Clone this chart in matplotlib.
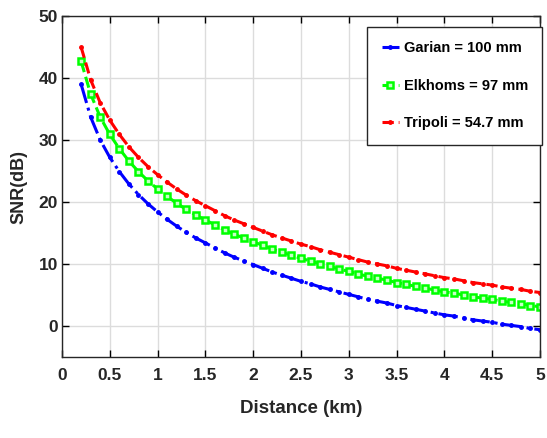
import numpy as np
import matplotlib
matplotlib.use("Agg")
import matplotlib.pyplot as plt

# distance in km, 0.2 .. 5.0 step 0.1
distance = [0.2, 0.3, 0.4, 0.5, 0.6, 0.7, 0.8, 0.9, 1.0,
            1.1, 1.2, 1.3, 1.4, 1.5, 1.6, 1.7, 1.8, 1.9, 2.0,
            2.1, 2.2, 2.3, 2.4, 2.5, 2.6, 2.7, 2.8, 2.9, 3.0,
            3.1, 3.2, 3.3, 3.4, 3.5, 3.6, 3.7, 3.8, 3.9, 4.0,
            4.1, 4.2, 4.3, 4.4, 4.5, 4.6, 4.7, 4.8, 4.9, 5.0]

snr_garian = [39.0, 33.7, 30.0, 27.2, 24.9, 22.9, 21.2, 19.7, 18.4,
              17.2, 16.1, 15.1, 14.2, 13.4, 12.6, 11.8, 11.1, 10.5, 9.9,
              9.3, 8.7, 8.2, 7.7, 7.2, 6.8, 6.3, 5.9, 5.5, 5.1,
              4.7, 4.3, 4.0, 3.7, 3.3, 3.0, 2.7, 2.4, 2.1, 1.8,
              1.6, 1.3, 1.0, 0.8, 0.6, 0.3, 0.1, -0.1, -0.4, -0.6]

snr_elkhoms = [42.7, 37.4, 33.7, 30.9, 28.6, 26.6, 24.9, 23.4, 22.1,
               20.9, 19.8, 18.8, 17.9, 17.1, 16.3, 15.5, 14.8, 14.2, 13.6,
               13.0, 12.4, 11.9, 11.4, 10.9, 10.5, 10.0, 9.6, 9.2, 8.8,
               8.4, 8.0, 7.7, 7.4, 7.0, 6.7, 6.4, 6.1, 5.8, 5.5,
               5.3, 5.0, 4.7, 4.5, 4.3, 4.0, 3.8, 3.6, 3.3, 3.1]

snr_tripoli = [45.0, 39.7, 36.0, 33.2, 30.9, 28.9, 27.2, 25.7, 24.4,
               23.2, 22.1, 21.1, 20.2, 19.4, 18.6, 17.8, 17.1, 16.5, 15.9,
               15.3, 14.7, 14.2, 13.7, 13.2, 12.8, 12.3, 11.9, 11.5, 11.1,
               10.7, 10.3, 10.0, 9.7, 9.3, 9.0, 8.7, 8.4, 8.1, 7.8,
               7.6, 7.3, 7.0, 6.8, 6.6, 6.3, 6.1, 5.9, 5.6, 5.4]

labels = ['Garian = 100 mm', 'Elkhoms = 97 mm', 'Tripoli = 54.7 mm']

plt.rcParams['font.family'] = ['Liberation Sans', 'DejaVu Sans']
plt.rcParams['font.weight'] = 'bold'
plt.rcParams['axes.labelweight'] = 'bold'
txt = '#262626'

fig = plt.figure(figsize=(5.47, 4.38), dpi=100)
ax = fig.add_axes([0.1133, 0.1849, 0.8739, 0.7786])

ax.plot(distance, snr_garian, color='#0000ff', linestyle='-.', linewidth=2.2,
        marker='o', markersize=2.5, label=labels[0])
ax.plot(distance, snr_elkhoms, color='#00ff00', linestyle='--', linewidth=2.2,
        marker='s', markersize=4.5, markerfacecolor='#c8ffc8', markeredgewidth=1.8,
        label=labels[1])
ax.plot(distance, snr_tripoli, color='#ff0000', linestyle='--', linewidth=2.2,
        marker='o', markersize=2.5, label=labels[2])

ax.set_xlim(0, 5)
ax.set_ylim(-5, 50)
ax.set_xticks(np.arange(0, 5.01, 0.5))
ax.set_xticklabels(['0', '0.5', '1', '1.5', '2', '2.5', '3', '3.5', '4', '4.5', '5'])
ax.set_yticks(np.arange(0, 51, 10))

ax.grid(True, color='#dcdcdc', linewidth=1)
ax.set_axisbelow(True)
ax.tick_params(direction='in', top=True, right=True, length=5, width=1,
               labelsize=12.5, labelcolor=txt)
ax.tick_params(axis='x', pad=8)
ax.tick_params(axis='y', pad=3)
for s in ax.spines.values():
    s.set_linewidth(1)
    s.set_color(txt)

ax.set_xlabel('Distance (km)', fontsize=13.5, fontweight='bold', color=txt)
ax.xaxis.set_label_coords(0.5, -0.125)
ax.set_ylabel('SNR(dB)', fontsize=13, fontweight='bold', color=txt)
ax.yaxis.set_label_coords(-0.073, 0.5)

leg = ax.legend(loc='upper right', bbox_to_anchor=(1.005, 0.968),
                prop={'size': 10.5, 'weight': 'bold'},
                handlelength=1.2, handletextpad=0.3, labelspacing=1.6,
                borderpad=1.0, borderaxespad=0, fancybox=False, framealpha=1,
                edgecolor=txt)
leg.get_frame().set_linewidth(1)

fig.savefig('out.png', dpi=100)
